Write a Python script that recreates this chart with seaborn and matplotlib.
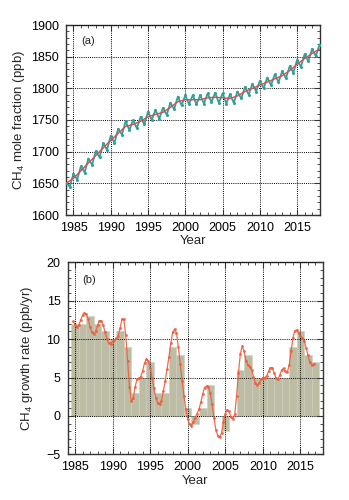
import numpy as np
import pandas as pd
import matplotlib
matplotlib.use("Agg")
import matplotlib.pyplot as plt
from matplotlib.ticker import MultipleLocator
import seaborn as sns

# ---------------- data ----------------
# Panel (a): trend (red), annual
trend_years = [1984, 1985, 1986, 1987, 1988, 1989, 1990, 1991, 1992, 1993, 1994,
               1995, 1996, 1997, 1998, 1999, 2000, 2001, 2002, 2003, 2004, 2005,
               2006, 2007, 2008, 2009, 2010, 2011, 2012, 2013, 2014, 2015, 2016,
               2017, 2018]
trend_values = [1650, 1658, 1670, 1682, 1694, 1706, 1718, 1729, 1740, 1743, 1748,
                1755, 1759, 1762, 1770, 1779, 1782, 1782, 1782, 1785, 1786, 1785,
                1784, 1788, 1795, 1800, 1805, 1810, 1815, 1820, 1828, 1838, 1847,
                1855, 1862]

# Panel (a): mole fraction with seasonal cycle (teal), half-yearly maxima/minima
monthly_times = [1984.0, 1984.5, 1985.0, 1985.5, 1986.0, 1986.5, 1987.0, 1987.5,
                 1988.0, 1988.5, 1989.0, 1989.5, 1990.0, 1990.5, 1991.0, 1991.5,
                 1992.0, 1992.5, 1993.0, 1993.5, 1994.0, 1994.5, 1995.0, 1995.5,
                 1996.0, 1996.5, 1997.0, 1997.5, 1998.0, 1998.5, 1999.0, 1999.5,
                 2000.0, 2000.5, 2001.0, 2001.5, 2002.0, 2002.5, 2003.0, 2003.5,
                 2004.0, 2004.5, 2005.0, 2005.5, 2006.0, 2006.5, 2007.0, 2007.5,
                 2008.0, 2008.5, 2009.0, 2009.5, 2010.0, 2010.5, 2011.0, 2011.5,
                 2012.0, 2012.5, 2013.0, 2013.5, 2014.0, 2014.5, 2015.0, 2015.5,
                 2016.0, 2016.5, 2017.0, 2017.5, 2018.0]
monthly_values = [1651, 1645, 1665, 1656, 1677, 1667, 1689, 1679,
                  1701, 1691, 1713, 1703, 1725, 1714, 1736, 1727,
                  1748, 1734, 1750, 1737, 1755, 1743, 1763, 1750,
                  1766, 1752, 1769, 1758, 1777, 1767, 1787, 1773,
                  1789, 1775, 1789, 1775, 1789, 1776, 1792, 1778,
                  1793, 1777, 1792, 1776, 1791, 1777, 1795, 1784,
                  1802, 1790, 1807, 1795, 1812, 1800, 1817, 1805,
                  1822, 1810, 1827, 1816, 1835, 1825, 1845, 1834,
                  1854, 1843, 1862, 1851, 1869]

# Panel (b): annual growth rate (bars)
bar_years = list(range(1985, 2018))
bar_values = [12, 12, 13, 12, 11, 10, 11, 9, 3, 5, 7, 3, 3, 9, 8, 1, -1, 1, 4, 0,
              -2, 0, 6, 8, 5, 5, 5, 5, 5, 9, 11, 8, 7]

# Panel (b): smoothed growth rate (red curve), quarterly
rate_times = [1984.75 + 0.25 * i for i in range(129)]
rate_values = [12.3,
               11.9, 11.6, 11.8, 12.5, 13.1, 13.4, 13.3, 12.6,
               11.6, 10.9, 10.7, 11.0, 11.8, 12.4, 12.4, 11.8,
               10.9, 10.0, 9.5, 9.4, 9.7, 9.9, 10.1, 10.4,
               11.4, 12.6, 12.6, 10.5, 7.2, 3.8, 1.9, 2.3,
               3.8, 4.8, 4.9, 5.1, 5.9, 6.9, 7.4, 7.2,
               6.3, 5.0, 3.6, 2.4, 1.7, 1.5, 2.0, 3.2,
               4.6, 6.1, 7.7, 9.5, 10.9, 11.3, 10.8, 9.0,
               6.8, 4.6, 2.6, 0.9, -0.4, -1.1, -1.3, -0.8,
               -0.2, 0.3, 0.9, 1.8, 2.9, 3.7, 3.9, 3.8,
               3.0, 1.5, -0.3, -1.8, -2.6, -2.8, -2.2, -0.8,
               0.3, 0.8, 0.6, -0.1, -0.4, 0.2, 2.6, 5.6,
               8.1, 9.1, 8.4, 7.2, 6.6, 6.4, 6.0, 5.1,
               4.3, 4.0, 4.3, 4.8, 5.0, 5.0, 5.2, 5.8,
               6.3, 6.3, 5.6, 4.9, 4.8, 5.3, 6.0, 6.2,
               5.8, 5.7, 6.6, 8.4, 10.2, 11.1, 11.2, 10.8,
               10.4, 10.2, 9.8, 8.9, 7.9, 7.0, 6.6, 6.8]

xticks = [1985, 1990, 1995, 2000, 2005, 2010, 2015]
yticks_a = [1600, 1650, 1700, 1750, 1800, 1850, 1900]
yticks_b = [-5, 0, 5, 10, 15, 20]

# ---------------- styling ----------------
sns.set_theme(style="white")
plt.rcParams["font.family"] = ["Liberation Sans", "DejaVu Sans"]
plt.rcParams["mathtext.fontset"] = "custom"
plt.rcParams["mathtext.rm"] = "Liberation Sans"
plt.rcParams["mathtext.it"] = "Liberation Sans"

FS = 9
teal = "#30a29b"
red_a = "#e4474e"
red_b = "#ef5d3d"
bar_col = "#bdbca5"

fig = plt.figure(figsize=(3.49, 5.00), dpi=100)
ax1 = fig.add_axes([66 / 349, 1 - 215 / 500, (319.5 - 66) / 349, 190 / 500])
ax2 = fig.add_axes([67.5 / 349, 1 - 454.4 / 500, (323 - 67.5) / 349, (454.4 - 262.3) / 500])


def style_axes(ax, yminor):
    ax.set_axisbelow(False)
    ax.grid(True, which="major", linestyle=(0, (1, 1.2)), color="black", linewidth=0.7, zorder=1.5)
    ax.xaxis.set_minor_locator(MultipleLocator(1))
    ax.yaxis.set_minor_locator(MultipleLocator(yminor))
    ax.tick_params(which="both", direction="in", top=True, right=True,
                   bottom=True, left=True, colors="#333333", labelcolor="black",
                   labelsize=FS)
    ax.tick_params(which="major", length=4, width=0.8, pad=5)
    ax.tick_params(which="minor", length=2, width=0.6)
    for s in ax.spines.values():
        s.set_visible(True)
        s.set_color("#333333")
        s.set_linewidth(1.0)


# ---------- panel (a) ----------
df_m = pd.DataFrame({"t": monthly_times, "v": monthly_values})
df_t = pd.DataFrame({"t": trend_years, "v": trend_values})
sns.lineplot(data=df_m, x="t", y="v", ax=ax1, color=teal, linewidth=1.3,
             marker="o", markersize=2.2, markeredgewidth=0, zorder=3)
sns.lineplot(data=df_t, x="t", y="v", ax=ax1, color=red_a, linewidth=1.0, zorder=4)
ax1.set_xlim(1984, 2018)
ax1.set_ylim(1600, 1900)
ax1.set_xticks(xticks)
ax1.set_yticks(yticks_a)
style_axes(ax1, 10)
ax1.set_xlabel("Year", fontsize=FS + 0.5, labelpad=1)
ax1.set_ylabel(r"CH$_4$ mole fraction (ppb)", fontsize=FS + 0.5, labelpad=3)
ax1.text(1986.0, 1875, "(a)", fontsize=FS - 1, va="center", ha="left")

# ---------- panel (b) ----------
ax2.bar(bar_years, bar_values, width=1.0, color=bar_col, edgecolor="#cfcebe",
        linewidth=0.4, zorder=1)
df_r = pd.DataFrame({"t": rate_times, "v": rate_values})
sns.lineplot(data=df_r, x="t", y="v", ax=ax2, color=red_b, linewidth=0.9,
             marker="o", markersize=2.0, markeredgewidth=0, alpha=0.9, zorder=3)
ax2.set_xlim(1984, 2018)
ax2.set_ylim(-5, 20)
ax2.set_xticks(xticks)
ax2.set_yticks(yticks_b)
style_axes(ax2, 1)
ax2.set_xlabel("Year", fontsize=FS + 0.5, labelpad=1)
ax2.set_ylabel(r"CH$_4$ growth rate (ppb/yr)", fontsize=FS + 0.5, labelpad=8)
ax2.text(1986.0, 17.7, "(b)", fontsize=FS - 1, va="center", ha="left")

fig.savefig("out.png", dpi=100)
